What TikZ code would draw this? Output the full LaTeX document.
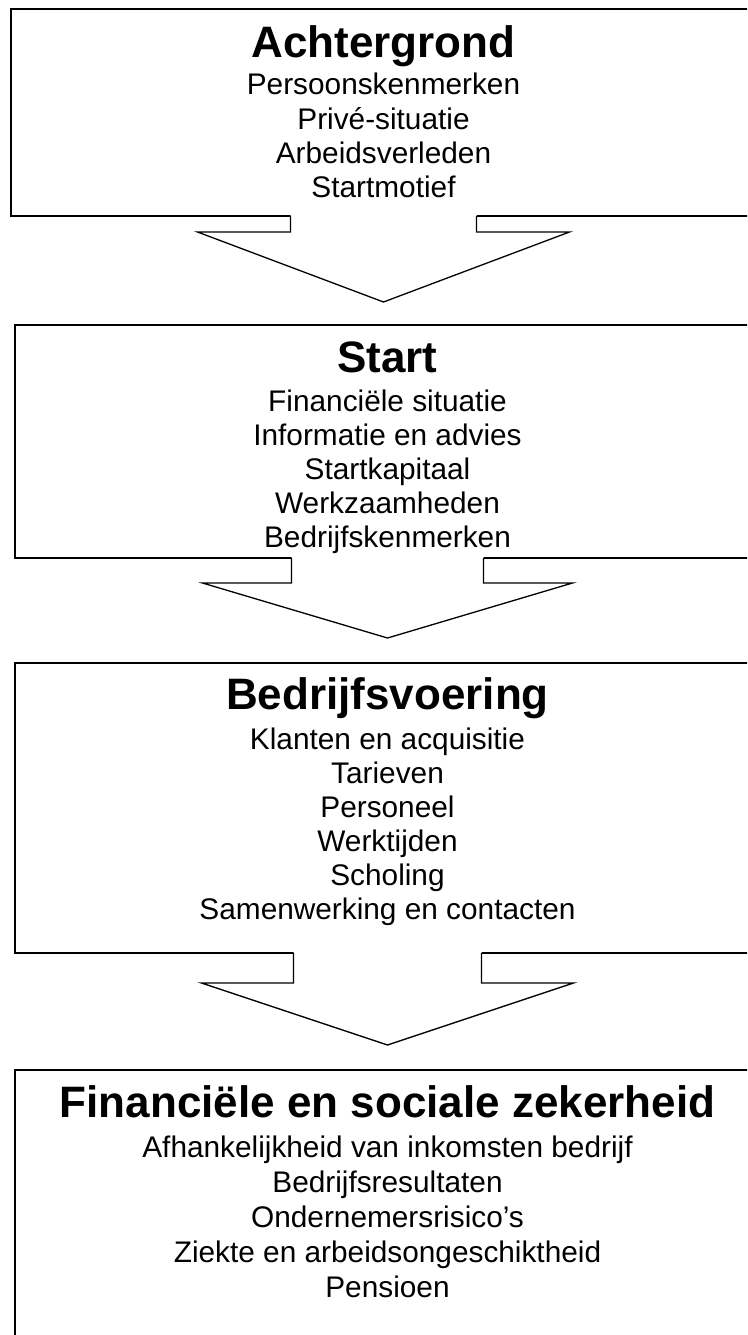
\documentclass[tikz,border=0pt]{standalone}
\usepackage{fontspec}
\setmainfont{Liberation Sans}
\usetikzlibrary{calc}
\tikzset{
  box/.style={draw=black, line width=1.3pt, fill=white, rectangle, anchor=north west, inner sep=0pt, outer sep=0pt},
  boxtitle/.style={anchor=base, inner sep=0pt, font=\fontsize{44}{48}\selectfont\bfseries},
  item/.style={anchor=base, inner sep=0pt, font=\fontsize{29.8}{34}\selectfont},
  arrline/.style={draw=black, line width=1.3pt, line join=miter},
}
% #1 box name, #2 half stem width, #3 stem height, #4 half wing width, #5 tip depth
\newcommand\blockarr[5]{%
  \fill[white] ($(#1.south)+(-#2,-2)$) -- ($(#1.south)+(-#2,#3)$) -- ($(#1.south)+(-#4,#3)$)
     -- ($(#1.south)+(0,#5)$) -- ($(#1.south)+(#4,#3)$) -- ($(#1.south)+(#2,#3)$) -- ($(#1.south)+(#2,-2)$) -- cycle;
  \draw[arrline] ($(#1.south)+(-#2,0)$) -- ($(#1.south)+(-#2,#3)$) -- ($(#1.south)+(-#4,#3)$)
     -- ($(#1.south)+(0,#5)$) -- ($(#1.south)+(#4,#3)$) -- ($(#1.south)+(#2,#3)$) -- ($(#1.south)+(#2,0)$);
}
\begin{document}
\begin{tikzpicture}[x=1pt, y=-1pt]
\useasboundingbox (0,0) rectangle (747,1335);
\clip (0,0) rectangle (747,1335);
\fill[white] (0,0) rectangle (747,1335);

% boxes
\node[box, minimum width=745pt, minimum height=207pt] (b1) at (11,9) {};
\node[box, minimum width=745pt, minimum height=233pt] (b2) at (15,325) {};
\node[box, minimum width=745pt, minimum height=290pt] (b3) at (15,663) {};
\node[box, minimum width=745pt, minimum height=340pt] (b4) at (15,1070) {};

% block arrows
\blockarr{b1}{93}{16}{186}{86}
\blockarr{b2}{96}{25}{185}{80}
\blockarr{b3}{94}{30}{186}{92}

% box 1
\node[boxtitle] (t1) at (383.5,58) {Achtergrond};
\foreach \t [count=\i from 0] in {Persoonskenmerken, Privé-situatie, Arbeidsverleden, Startmotief}
  \node[item] (b1l\i) at (383.5,{95+34*\i}) {\t};

% box 2
\node[boxtitle] (t2) at (387.5,372) {Start};
\foreach \t [count=\i from 0] in {Financiële situatie, Informatie en advies, Startkapitaal, Werkzaamheden, Bedrijfskenmerken}
  \node[item] (b2l\i) at (387.5,{411+34*\i}) {\t};

% box 3
\node[boxtitle] (t3) at (387.5,709) {Bedrijfsvoering};
\foreach \t [count=\i from 0] in {Klanten en acquisitie, Tarieven, Personeel, Werktijden, Scholing, Samenwerking en contacten}
  \node[item] (b3l\i) at (387.5,{749+34*\i}) {\t};

% box 4
\node[boxtitle] (t4) at (387.5,1117) {Financiële en sociale zekerheid};
\foreach \t [count=\i from 0] in {Afhankelijkheid van inkomsten bedrijf, Bedrijfsresultaten, Ondernemersrisico’s, Ziekte en arbeidsongeschiktheid, Pensioen}
  \node[item] (b4l\i) at (387.5,{1157+35*\i}) {\t};
\end{tikzpicture}
\end{document}
